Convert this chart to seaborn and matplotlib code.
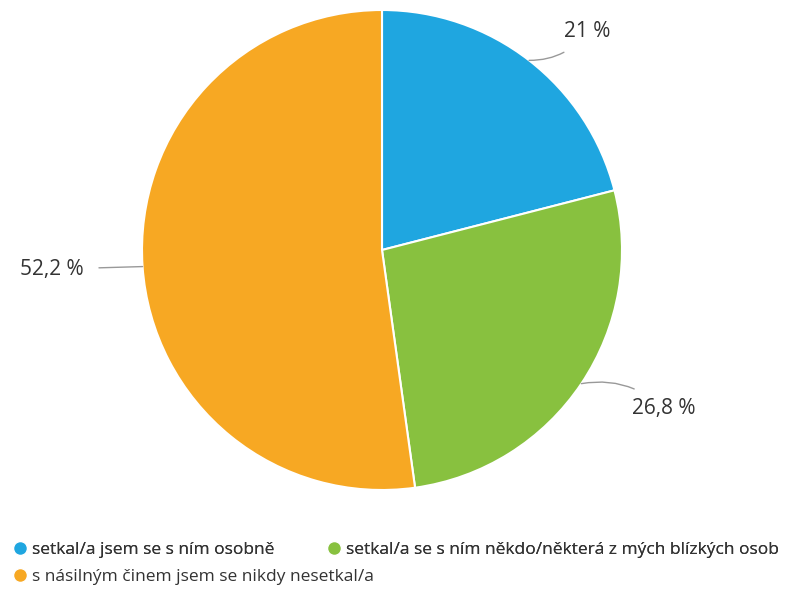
import numpy as np
import matplotlib.pyplot as plt
import seaborn as sns
from matplotlib.lines import Line2D

sns.set_theme(style="white")
plt.rcParams['font.family'] = ['Open Sans', 'DejaVu Sans']

categories = ["setkal/a jsem se s ním osobně",
              "setkal/a se s ním někdo/některá z mých blízkých osob",
              "s násilným činem jsem se nikdy nesetkal/a"]
values = [21.0, 26.8, 52.2]
labels = ["21 %", "26,8 %", "52,2 %"]
colors = ["#1FA6E0", "#88C13F", "#F7A823"]

fig = plt.figure(figsize=(8.03, 5.94), dpi=100)
ax = fig.add_axes([(382 - 240) / 803, 1 - 490 / 594, 480 / 803, 480 / 594])

wedges, _ = ax.pie(values, colors=colors, startangle=90, counterclock=False,
                   radius=1.0, wedgeprops=dict(edgecolor="white", linewidth=1.5))
ax.set_xlim(-1, 1)
ax.set_ylim(-1, 1)
ax.set_aspect('equal')
ax.axis('off')

# label positions (data coords) and connector styles
label_pos = [(0.76, 0.91, 'left', "arc3,rad=-0.25"),
             (1.04, -0.66, 'left', "arc3,rad=0.25"),
             (-1.245, -0.08, 'right', "arc3,rad=0")]
for w, lab, (tx, ty, ha, cs) in zip(wedges, labels, label_pos):
    ang = np.deg2rad((w.theta1 + w.theta2) / 2)
    x, y = np.cos(ang), np.sin(ang)
    ax.annotate(lab, xy=(x, y), xytext=(tx, ty), ha=ha, va='center',
                fontsize=15, color="#333333",
                arrowprops=dict(arrowstyle='-', color="#999999", lw=1,
                                connectionstyle=cs, shrinkA=9, shrinkB=0),
                annotation_clip=False)

def handle(c):
    return Line2D([0], [0], marker='o', color='w', markerfacecolor=c,
                  markersize=10, linestyle='')

kw = dict(frameon=False, fontsize=12.5, handletextpad=0.2, handlelength=1.0,
          labelcolor="#333333", loc='center left')
leg1 = fig.legend([handle(colors[0]), handle(colors[1])], categories[:2], ncol=2,
                  bbox_to_anchor=(-0.005, 1 - 550 / 594), columnspacing=2.9, **kw)
fig.add_artist(leg1)
fig.legend([handle(colors[2])], categories[2:],
           bbox_to_anchor=(-0.005, 1 - 577 / 594), **kw)

fig.savefig("out.png", dpi=100)
